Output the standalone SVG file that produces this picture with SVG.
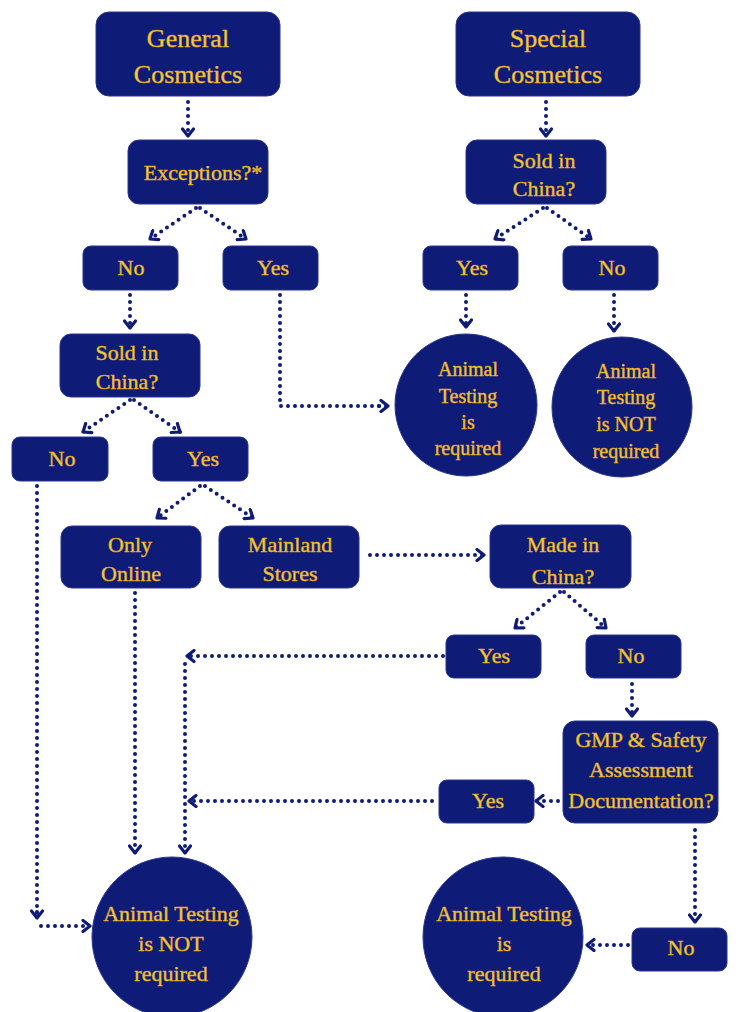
<svg xmlns="http://www.w3.org/2000/svg" width="741" height="1012" viewBox="0 0 741 1012" font-family="Liberation Serif, Times New Roman, serif">
<defs>
<style>
.n{fill:#0e1b77;stroke:#2a3590;stroke-width:1}
.t{font-size:22px;fill:#f4d03f;stroke:#e0a020;stroke-width:0.5;text-anchor:middle}
.h{font-size:26px}
.s{font-size:20px}
.c{fill:none;stroke:#0e1b77;stroke-width:4;stroke-linecap:round;stroke-dasharray:0 7;marker-end:url(#ah)}
.cn{fill:none;stroke:#0e1b77;stroke-width:4;stroke-linecap:round;stroke-dasharray:0 7}
</style>
<marker id="ah" markerUnits="userSpaceOnUse" viewBox="0 0 14 14" refX="11" refY="7" markerWidth="14" markerHeight="14" orient="auto">
<path d="M4,1.5 L11,7 L4,12.5" fill="none" stroke="#0e1b77" stroke-width="3.2" stroke-linecap="round" stroke-linejoin="round"/>
</marker>
</defs>
<rect width="741" height="1012" fill="#ffffff"/>

<g id="connectors">
<path class="c" d="M188,102 L188,136"/>
<path class="c" d="M196,208 L150,239"/>
<path class="c" d="M200,208 L246,239"/>
<path class="c" d="M546,102 L546,136"/>
<path class="c" d="M543,208 L495,239"/>
<path class="c" d="M547,208 L591,239"/>
<path class="c" d="M130,295 L130,328"/>
<path class="cn" d="M280,295 L280,406 L385,406"/>
<path class="c" d="M379,406 L388,406"/>
<path class="c" d="M466,295 L466,327"/>
<path class="c" d="M614,295 L614,331"/>
<path class="c" d="M130,400 L83,432"/>
<path class="c" d="M134,400 L180,432"/>
<path class="cn" d="M37,486 L37,918"/>
<path class="c" d="M37,912 L37,918"/>
<path class="c" d="M41,926 L90,926"/>
<path class="c" d="M200,486 L157,518"/>
<path class="c" d="M205,486 L253,518"/>
<path class="c" d="M135,593 L135,853"/>
<path class="c" d="M370,555 L484,555"/>
<path class="c" d="M560,592 L515,628"/>
<path class="c" d="M564,592 L606,628"/>
<path class="c" d="M443,656 L187,656"/>
<path class="c" d="M185,664 L185,853"/>
<path class="c" d="M632,684 L632,716"/>
<path class="c" d="M558,801 L536,801"/>
<path class="c" d="M432,801 L189,801"/>
<path class="c" d="M695,830 L695,922"/>
<path class="c" d="M628,945 L587,945"/>
</g>

<g id="general-cosmetics"><rect class="n" x="96" y="12" width="184" height="84" rx="13"/><text class="t h" x="188" y="47">General</text><text class="t h" x="188" y="83">Cosmetics</text></g>
<g id="special-cosmetics"><rect class="n" x="456" y="12" width="184" height="84" rx="13"/><text class="t h" x="548" y="47">Special</text><text class="t h" x="548" y="83">Cosmetics</text></g>
<g id="exceptions"><rect class="n" x="128" y="140" width="140" height="64" rx="11"/><text class="t" x="203" y="180">Exceptions?*</text></g>
<g id="sold-china-right"><rect class="n" x="466" y="140" width="140" height="64" rx="11"/><text class="t" x="544" y="168">Sold in</text><text class="t" x="544" y="196">China?</text></g>
<g id="no-1"><rect class="n" x="83" y="246" width="95" height="44" rx="8"/><text class="t" x="131" y="275">No</text></g>
<g id="yes-1"><rect class="n" x="223" y="246" width="95" height="44" rx="8"/><text class="t" x="273" y="275">Yes</text></g>
<g id="yes-r1"><rect class="n" x="423" y="246" width="95" height="44" rx="8"/><text class="t" x="472" y="275">Yes</text></g>
<g id="no-r1"><rect class="n" x="563" y="246" width="95" height="44" rx="8"/><text class="t" x="612" y="275">No</text></g>
<g id="sold-china-left"><rect class="n" x="60" y="334" width="140" height="63" rx="11"/><text class="t" x="127" y="360">Sold in</text><text class="t" x="127" y="389">China?</text></g>
<g id="circle-required-top"><circle class="n" cx="466" cy="405" r="71"/><text class="t s" x="468" y="376">Animal</text><text class="t s" x="468" y="403">Testing</text><text class="t s" x="468" y="429">is</text><text class="t s" x="468" y="455">required</text></g>
<g id="circle-not-required-top"><circle class="n" cx="622" cy="407" r="70"/><text class="t s" x="626" y="378">Animal</text><text class="t s" x="626" y="404">Testing</text><text class="t s" x="626" y="431">is NOT</text><text class="t s" x="626" y="458">required</text></g>
<g id="no-2"><rect class="n" x="12" y="437" width="96" height="44" rx="8"/><text class="t" x="62" y="466">No</text></g>
<g id="yes-2"><rect class="n" x="153" y="437" width="95" height="44" rx="8"/><text class="t" x="203" y="466">Yes</text></g>
<g id="only-online"><rect class="n" x="61" y="526" width="140" height="62" rx="11"/><text class="t" x="130" y="552">Only</text><text class="t" x="131" y="581">Online</text></g>
<g id="mainland-stores"><rect class="n" x="219" y="526" width="140" height="62" rx="11"/><text class="t" x="290" y="552">Mainland</text><text class="t" x="290" y="581">Stores</text></g>
<g id="made-in-china"><rect class="n" x="490" y="525" width="141" height="63" rx="11"/><text class="t" x="563" y="552">Made in</text><text class="t" x="563" y="584">China?</text></g>
<g id="yes-3"><rect class="n" x="446" y="635" width="95" height="43" rx="8"/><text class="t" x="494" y="663">Yes</text></g>
<g id="no-3"><rect class="n" x="586" y="635" width="95" height="43" rx="8"/><text class="t" x="631" y="663">No</text></g>
<g id="gmp"><rect class="n" x="563" y="721" width="155" height="102" rx="12"/><text class="t" x="641" y="747">GMP &amp; Safety</text><text class="t" x="641" y="777">Assessment</text><text class="t" x="641" y="808">Documentation?</text></g>
<g id="yes-4"><rect class="n" x="439" y="780" width="95" height="43" rx="8"/><text class="t" x="488" y="808">Yes</text></g>
<g id="no-4"><rect class="n" x="632" y="928" width="95" height="43" rx="8"/><text class="t" x="681" y="955">No</text></g>
<g id="circle-not-required-bottom"><circle class="n" cx="172" cy="937" r="80"/><text class="t" x="171" y="921">Animal Testing</text><text class="t" x="171" y="951">is NOT</text><text class="t" x="171" y="981">required</text></g>
<g id="circle-required-bottom"><circle class="n" cx="503" cy="937" r="80"/><text class="t" x="504" y="921">Animal Testing</text><text class="t" x="504" y="951">is</text><text class="t" x="504" y="981">required</text></g>
</svg>
